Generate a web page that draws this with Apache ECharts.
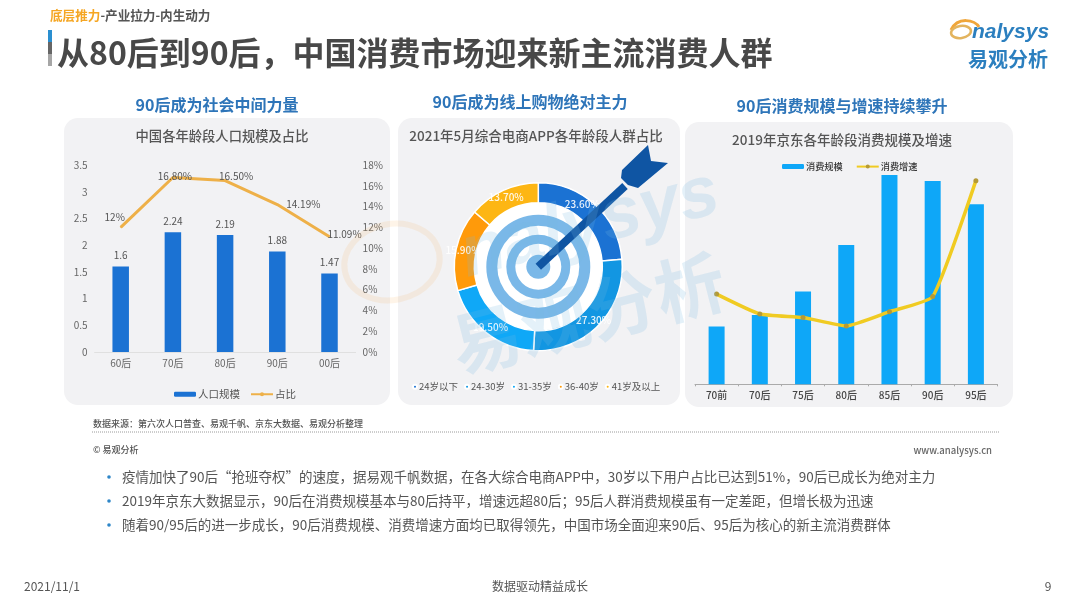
<!DOCTYPE html>
<html>
<head>
<meta charset="utf-8">
<style>
    html, body { margin: 0; padding: 0; background: #fff; }
    #main { width: 1080px; height: 608px; }
</style>
<script src="https://cdn.jsdelivr.net/npm/echarts@6/dist/echarts.min.js"></script>
</head>
<body>
<div id="main"></div>
<script>
(function(){

    // left chart
    let popCategories = ['60后', '70后', '80后', '90后', '00后'];
    let popValues = [1.6, 2.24, 2.19, 1.88, 1.47];
    let popShare = [12, 16.8, 16.5, 14.19, 11.09];
    let popShareLabels = ['12%', '16.80%', '16.50%', '14.19%', '11.09%'];

    // middle chart
    let ageGroups = ['24岁以下', '24-30岁', '31-35岁', '36-40岁', '41岁及以上'];
    let ageShare = [23.6, 27.3, 19.5, 15.9, 13.7];

    // right chart, no axis in the picture so values are relative
    let jdCategories = ['70前', '70后', '75后', '80后', '85后', '90后', '95后'];
    let jdScale = [27.6, 33.1, 44.3, 66.6, 100, 97.1, 86];
    let jdGrowth = [43.1, 33.6, 31.9, 27.9, 34.7, 41.9, 97.3];

    let bulletLines = [
        '疫情加快了90后“抢班夺权”的速度，据易观千帆数据，在各大综合电商APP中，30岁以下用户占比已达到51%，90后已成长为绝对主力',
        '2019年京东大数据显示，90后在消费规模基本与80后持平，增速远超80后；95后人群消费规模虽有一定差距，但增长极为迅速',
        '随着90/95后的进一步成长，90后消费规模、消费增速方面均已取得领先，中国市场全面迎来90后、95后为核心的新主流消费群体'
    ];

    const FONT = '"Noto Sans CJK SC", "Noto Sans", sans-serif';
    const CX = 538.3, CY = 266.7;
    const BLUE_TITLE = '#2e75b9';

    let txt = function(x, y, text, size, color, align, weight, z){
        return {
            type: 'text', x: x, y: y, z: z || 5, silent: true,
            style: {
                text: text, fill: color, align: align || 'left', verticalAlign: 'middle',
                font: (weight || 'normal') + ' ' + size + 'px ' + FONT
            }
        };
    };
    let panel = function(x, y, w, h){
        return {
            type: 'rect', z: 0, silent: true,
            shape: { x: x, y: y, width: w, height: h, r: 14 },
            style: { fill: '#f2f2f4' }
        };
    };
    let ring = function(r, r0, color){
        return {
            type: 'ring', z: 1, silent: true,
            shape: { cx: CX, cy: CY, r: r, r0: r0 },
            style: { fill: color }
        };
    };

    let graphics = [
        panel(64, 118, 326, 287),
        panel(398, 118, 282, 287),
        panel(685, 122, 328, 285),

        // page header
        {
            type: 'text', x: 50, y: 15, z: 5, silent: true,
            style: {
                text: '{a|底层推力}{b|-产业拉力-内生动力}', verticalAlign: 'middle',
                rich: {
                    a: { fill: '#f5a623', font: 'bold 12.6px ' + FONT },
                    b: { fill: '#555555', font: 'bold 12.6px ' + FONT }
                }
            }
        },
        { type: 'rect', z: 5, silent: true, shape: { x: 48, y: 30, width: 4, height: 12 }, style: { fill: '#2a8fd0' } },
        { type: 'rect', z: 5, silent: true, shape: { x: 48, y: 42, width: 4, height: 12 }, style: { fill: '#666666' } },
        { type: 'rect', z: 5, silent: true, shape: { x: 48, y: 54, width: 4, height: 12 }, style: { fill: '#a6a6a6' } },
        txt(57, 53, '从80后到90后，中国消费市场迎来新主流消费人群', 32, '#484848', 'left', 'bold'),

        // logo
        {
            type: 'bezierCurve', z: 5, silent: true,
            shape: { x1: 951, y1: 30, cpx1: 958, cpy1: 16, cpx2: 975, cpy2: 20, x2: 979, y2: 27 },
            style: { stroke: '#f0a63a', lineWidth: 3, fill: null }
        },
        {
            type: 'ellipse', z: 5, silent: true, rotation: 0.15, x: 961, y: 32,
            shape: { cx: 0, cy: 0, rx: 10, ry: 6 },
            style: { stroke: '#e3b45e', lineWidth: 2.5, fill: null }
        },
        {
            type: 'text', x: 972, y: 32, z: 5, silent: true,
            style: { text: 'nalysys', fill: '#2b7fbf', verticalAlign: 'middle', font: 'italic bold 21px "Liberation Sans", sans-serif' }
        },
        txt(1008, 59, '易观分析', 20, '#2b7fbf', 'center', 'bold'),

        // section headings
        txt(217, 105, '90后成为社会中间力量', 16, BLUE_TITLE, 'center', 'bold'),
        txt(530, 102, '90后成为线上购物绝对主力', 16, BLUE_TITLE, 'center', 'bold'),
        txt(842, 106, '90后消费规模与增速持续攀升', 16, BLUE_TITLE, 'center', 'bold'),
        txt(222, 136, '中国各年龄段人口规模及占比', 13.3, '#555555', 'center', '500'),
        txt(536, 136, '2021年5月综合电商APP各年龄段人群占比', 13.5, '#555555', 'center', '500'),
        txt(842, 140, '2019年京东各年龄段消费规模及增速', 13.5, '#555555', 'center', '500'),

        // target illustration
        { type: 'circle', z: 1, silent: true, shape: { cx: CX, cy: CY, r: 66 }, style: { fill: '#ffffff' } },
        ring(52, 41, '#7ab8e8'),
        ring(32, 23, '#7ab8e8'),
        { type: 'circle', z: 1, silent: true, shape: { cx: CX, cy: CY, r: 12 }, style: { fill: '#7ab8e8' } },
        {
            type: 'line', z: 20, silent: true,
            shape: { x1: CX, y1: CY, x2: 625, y2: 186 },
            style: { stroke: '#0f55a3', lineWidth: 8 }
        },
        {
            type: 'polygon', z: 20, silent: true,
            shape: { points: [[648, 145], [651, 161], [668, 163], [638, 188], [628, 185], [621, 178], [622, 170]] },
            style: { fill: '#0f55a3' }
        },

        // footer of the charts
        txt(93, 424, '数据来源：第六次人口普查、易观千帆、京东大数据、易观分析整理', 9, '#555555', 'left', '500'),
        {
            type: 'line', z: 5, silent: true,
            shape: { x1: 92, y1: 432, x2: 1000, y2: 432 },
            style: { stroke: '#9a9a9a', lineWidth: 1, lineDash: [1, 1] }
        },
        txt(93, 450, '© 易观分析', 9, '#555555', 'left', '500'),
        txt(992, 450, 'www.analysys.cn', 9.5, '#666666', 'right', '500'),

        // page footer
        txt(24, 586, '2021/11/1', 12, '#555555'),
        txt(540, 586, '数据驱动精益成长', 12, '#555555', 'center'),
        txt(1048, 586, '9', 12, '#555555', 'center'),

        // watermark
        {
            type: 'text', x: 590, y: 225, z: 30, silent: true, rotation: 0.25,
            style: {
                text: 'nalysys', fill: 'rgba(120,185,225,0.2)', align: 'center', verticalAlign: 'middle',
                font: 'italic bold 72px "Liberation Sans", sans-serif'
            }
        },
        {
            type: 'text', x: 588, y: 313, z: 30, silent: true, rotation: 0.25,
            style: {
                text: '易观分析', fill: 'rgba(120,185,225,0.2)', align: 'center', verticalAlign: 'middle',
                font: 'bold 70px ' + FONT
            }
        },
        {
            type: 'ellipse', z: 30, silent: true, x: 392, y: 262, rotation: 0.2,
            shape: { cx: 0, cy: 0, rx: 48, ry: 38 },
            style: { stroke: 'rgba(245,170,80,0.13)', lineWidth: 6, fill: null }
        }
    ];

    bulletLines.forEach(function(line, i){
        let y = 477 + i * 24;
        graphics.push({ type: 'circle', z: 5, silent: true, shape: { cx: 109, cy: y, r: 1.8 }, style: { fill: '#2e86c8' } });
        graphics.push(txt(122, y, line, 13.5, '#555555'));
    });

    let popLabelOffsets = [[-6, 0], [2, 9], [11, 6], [26, 10], [15, 8]];
    let pieLabelOffsets = [[-8, -6], [0, 0], [0, 0], [0, 0], [0, 0]];

    let axisFont = { color: '#666666', fontSize: 10, fontFamily: FONT };

    let opts = {
        animation: false,
        textStyle: { fontFamily: FONT },
        graphic: { elements: graphics },
        legend: [
            {
                left: 174, top: 389, padding: 0, itemWidth: 22, itemHeight: 5, itemGap: 10,
                data: ['人口规模', '占比'],
                textStyle: { color: '#555555', fontSize: 10.5, padding: [0, 0, 0, -3] }
            },
            {
                left: 412, top: 382, padding: 0, itemWidth: 4, itemHeight: 4, itemGap: 6, icon: 'circle',
                data: ageGroups,
                textStyle: { color: '#555555', fontSize: 9.5, padding: [0, 0, 0, -3] }
            },
            {
                left: 782, top: 162, padding: 0, itemWidth: 22, itemHeight: 5, itemGap: 13,
                data: ['消费规模', '消费增速'],
                textStyle: { color: '#333333', fontSize: 9.2, fontWeight: 500, padding: [0, 0, 0, -3] }
            }
        ],
        grid: [
            { left: 94.6, right: 1080 - 355.6, top: 165, height: 187 },
            { left: 695, right: 1080 - 997.5, top: 175, height: 209.3 }
        ],
        xAxis: [
            {
                type: 'category', gridIndex: 0, data: popCategories,
                axisTick: { show: false },
                axisLine: { lineStyle: { color: '#e0e0e0' } },
                axisLabel: Object.assign({ margin: 6 }, axisFont)
            },
            {
                type: 'category', gridIndex: 1, data: jdCategories,
                axisTick: { show: true, length: 2, lineStyle: { color: '#aaaaaa' } },
                axisLine: { lineStyle: { color: '#aaaaaa' } },
                axisLabel: { color: '#444444', fontSize: 10, fontWeight: 500, margin: 6, fontFamily: FONT }
            }
        ],
        yAxis: [
            {
                type: 'value', gridIndex: 0, min: 0, max: 3.5, interval: 0.5,
                axisLine: { show: false }, axisTick: { show: false }, splitLine: { show: false },
                axisLabel: Object.assign({ margin: 7 }, axisFont)
            },
            {
                type: 'value', gridIndex: 0, min: 0, max: 18, interval: 2, position: 'right',
                axisLine: { show: false }, axisTick: { show: false }, splitLine: { show: false },
                axisLabel: Object.assign({ margin: 7, formatter: '{value}%' }, axisFont)
            },
            { type: 'value', gridIndex: 1, min: 0, max: 100, show: false },
            { type: 'value', gridIndex: 1, min: 0, max: 100, show: false }
        ],
        series: [
            {
                name: '人口规模', type: 'bar', xAxisIndex: 0, yAxisIndex: 0, z: 3,
                barWidth: 16.5, data: popValues,
                itemStyle: { color: '#1b72d3' },
                label: { show: true, position: 'top', distance: 6, color: '#555555', fontSize: 10 }
            },
            {
                name: '占比', type: 'line', xAxisIndex: 0, yAxisIndex: 1, z: 4,
                symbol: 'circle', symbolSize: 1,
                lineStyle: { color: '#eeb048', width: 3 },
                itemStyle: { color: '#eeb048' },
                data: popShare.map(function(val, idx){
                    return {
                        value: val,
                        label: {
                            show: true, position: 'top', distance: 5,
                            offset: popLabelOffsets[idx], formatter: popShareLabels[idx],
                            color: '#555555', fontSize: 10
                        }
                    };
                })
            },
            {
                name: '占比分布', type: 'pie', z: 3,
                center: [CX, CY], radius: [64, 84], startAngle: 90,
                itemStyle: { borderColor: '#ffffff', borderWidth: 1.5 },
                label: {
                    show: true, position: 'inside', color: 'rgba(255,255,255,0.9)', fontSize: 10, fontWeight: 500,
                    formatter: function(p){ return p.value.toFixed(2) + '%'; }
                },
                labelLine: { show: false },
                color: ['#1b72d3', '#1296e2', '#0fa8f7', '#ff9a0a', '#fdb614'],
                data: ageGroups.map(function(name, idx){
                    return { name: name, value: ageShare[idx], label: { offset: pieLabelOffsets[idx] } };
                })
            },
            {
                name: '消费规模', type: 'bar', xAxisIndex: 1, yAxisIndex: 2, z: 3,
                barWidth: 16, data: jdScale,
                itemStyle: { color: '#0ea7f8' }
            },
            {
                name: '消费增速', type: 'line', xAxisIndex: 1, yAxisIndex: 3, z: 4,
                smooth: 0.15, symbol: 'circle', symbolSize: 5, data: jdGrowth,
                lineStyle: { color: '#f0cb22', width: 3.5 },
                itemStyle: { color: '#b59a35' }
            }
        ]
    };

    let chart = echarts.init(document.getElementById('main'));
    chart.setOption(opts);

})();
</script>
</body>
</html>
